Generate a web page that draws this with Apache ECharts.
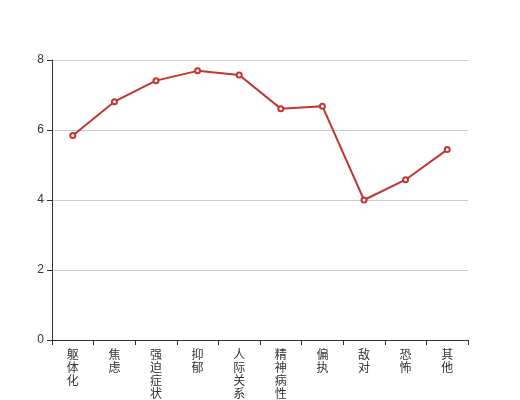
<!DOCTYPE html>
<html><head><meta charset="utf-8">
<script src="https://cdn.jsdelivr.net/npm/echarts@6/dist/echarts.min.js"></script>
<style>html,body{margin:0;padding:0;background:#fff}#c{width:520px;height:400px}</style>
</head><body><div id="c"></div>
<script>
var categories = ['躯体化','焦虑','强迫症状','抑郁','人际关系敏感','精神病性','偏执','敌对','恐怖','其他'];
var values = [5.84, 6.81, 7.41, 7.69, 7.57, 6.61, 6.68, 4.0, 4.58, 5.44];
var chart = echarts.init(document.getElementById('c'));
chart.setOption({
  animation: false,
  grid: {left: 52, right: 52, top: 60, bottom: 60, containLabel: false, outerBoundsMode: 'none'},
  xAxis: {
    type: 'category', data: categories,
    axisLine: {lineStyle: {color: '#333'}},
    axisTick: {show: true, length: 5, lineStyle: {color: '#333'}},
    axisLabel: {color: '#333', fontSize: 12, lineHeight: 13, interval: 0, margin: 8,
      fontFamily: 'Noto Sans CJK SC',
      formatter: function (v) { return v.split('').join('\n'); }}
  },
  yAxis: {
    type: 'value', min: 0, max: 8, interval: 2,
    axisLine: {show: true, lineStyle: {color: '#333'}},
    axisTick: {show: true, lineStyle: {color: '#333'}},
    axisLabel: {color: '#333', fontSize: 12},
    splitLine: {lineStyle: {color: '#ccc'}}
  },
  series: [{
    type: 'line', data: values,
    symbol: 'emptyCircle', symbolSize: 5,
    lineStyle: {color: '#c23531', width: 2},
    itemStyle: {color: '#c23531'}
  }]
});
</script></body></html>
